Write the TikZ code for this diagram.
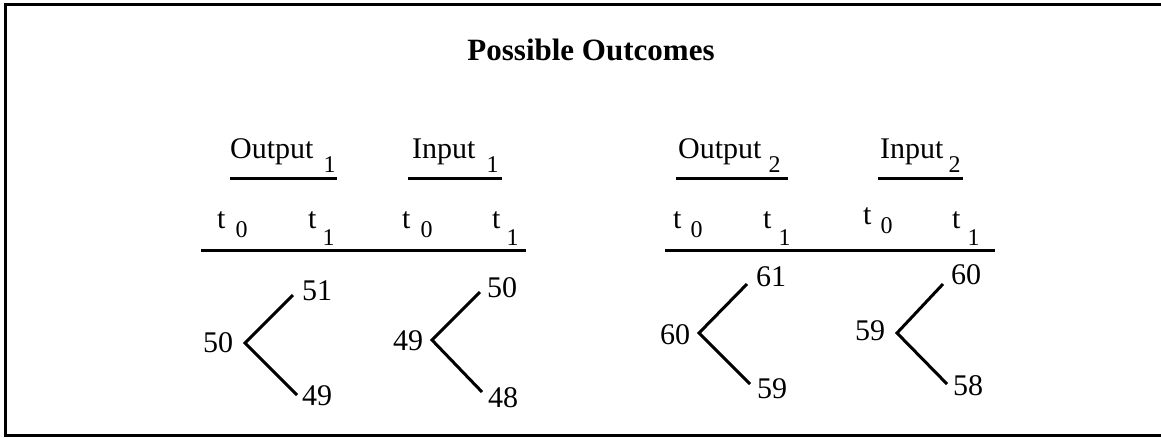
\documentclass[tikz,border=0pt]{standalone}
\usepackage{fontspec}
\setmainfont{Liberation Serif}
\newcommand\subsz{\fontsize{24}{28}\selectfont}
\begin{document}
\begin{tikzpicture}[x=1pt,y=-1pt,
  lbl/.style={font=\fontsize{30}{36}\selectfont, inner sep=0pt, anchor=base west},
  num/.style={font=\fontsize{30}{36}\selectfont, inner sep=0pt, anchor=center},
  ttl/.style={font=\fontsize{31}{36}\selectfont\bfseries, inner sep=0pt, anchor=base},
  rule/.style={line width=3pt},
  branch/.style={line width=3pt},
  frame/.style={line width=3pt}]
\useasboundingbox (0,0) rectangle (1161,437);
% frame (right side open)
\draw[frame] (1161,4.7) -- (5.5,4.7) -- (5.5,435.5) -- (1161,435.5);
% title
\node[ttl] (title) at (591,60) {Possible Outcomes};
% headers
\node[lbl] (out1) at (230,158) {Output\hspace{10pt}\raisebox{-14pt}{\subsz 1}};
\node[lbl] (in1) at (412,158) {Input\hspace{11pt}\raisebox{-14pt}{\subsz 1}};
\node[lbl] (out2) at (678,158) {Output\hspace{7pt}\raisebox{-14pt}{\subsz 2}};
\node[lbl] (in2) at (880,158) {Input\hspace{5pt}\raisebox{-14pt}{\subsz 2}};
\coordinate (u1a) at (230,178); \coordinate (u1b) at (337,178);
\coordinate (u2a) at (408,178); \coordinate (u2b) at (502,178);
\coordinate (u3a) at (676,178); \coordinate (u3b) at (788,178);
\coordinate (u4a) at (878,178); \coordinate (u4b) at (963,178);
\draw[rule] (u1a) -- (u1b);
\draw[rule] (u2a) -- (u2b);
\draw[rule] (u3a) -- (u3b);
\draw[rule] (u4a) -- (u4b);
% time labels
\node[lbl] (ta0) at (217,228) {t\hspace{10pt}\raisebox{-9pt}{\subsz 0}};
\node[lbl] (ta1) at (308,228) {t\hspace{6pt}\raisebox{-17pt}{\subsz 1}};
\node[lbl] (tb0) at (402,228) {t\hspace{10pt}\raisebox{-9pt}{\subsz 0}};
\node[lbl] (tb1) at (492,228) {t\hspace{6pt}\raisebox{-17pt}{\subsz 1}};
\node[lbl] (tc0) at (673,228) {t\hspace{9pt}\raisebox{-9pt}{\subsz 0}};
\node[lbl] (tc1) at (763,228) {t\hspace{7pt}\raisebox{-17pt}{\subsz 1}};
\node[lbl] (td0) at (863,224) {t\hspace{9pt}\raisebox{-9pt}{\subsz 0}};
\node[lbl] (td1) at (952,228) {t\hspace{7pt}\raisebox{-17pt}{\subsz 1}};
\coordinate (la) at (201,250); \coordinate (lb) at (526,250);
\coordinate (lc) at (665,250); \coordinate (ld) at (995,250);
\draw[rule] (la) -- (lb);
\draw[rule] (lc) -- (ld);
% tree 1
\node[num] (n1) at (218,343) {50};
\node[num] (n1u) at (317,291) {51};
\node[num] (n1d) at (317,396) {49};
\coordinate (r1) at (245,343); \coordinate (r1u) at (293,295); \coordinate (r1d) at (297,395);
\draw[branch] (r1u) -- (r1) -- (r1d);
% tree 2
\node[num] (n2) at (408,341) {49};
\node[num] (n2u) at (502,288) {50};
\node[num] (n2d) at (503,398) {48};
\coordinate (r2) at (432,340); \coordinate (r2u) at (480,292); \coordinate (r2d) at (482,392);
\draw[branch] (r2u) -- (r2) -- (r2d);
% tree 3
\node[num] (n3) at (675,335) {60};
\node[num] (n3u) at (771,277) {61};
\node[num] (n3d) at (772,389) {59};
\coordinate (r3) at (699,333); \coordinate (r3u) at (747,284); \coordinate (r3d) at (750,384);
\draw[branch] (r3u) -- (r3) -- (r3d);
% tree 4
\node[num] (n4) at (870,331) {59};
\node[num] (n4u) at (966,275) {60};
\node[num] (n4d) at (968,386) {58};
\coordinate (r4) at (897,333); \coordinate (r4u) at (943,284); \coordinate (r4d) at (947,384);
\draw[branch] (r4u) -- (r4) -- (r4d);
\end{tikzpicture}
\end{document}
